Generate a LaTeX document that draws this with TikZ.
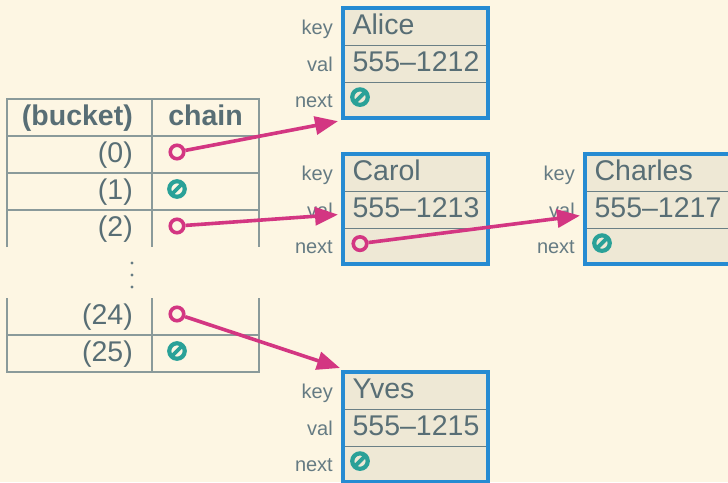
\documentclass[tikz,border=0pt]{standalone}
\usepackage{fontspec}
\setmainfont{Liberation Sans}
\usetikzlibrary{arrows.meta,fit,calc}
\definecolor{bgc}{HTML}{FDF6E3}
\definecolor{cellc}{HTML}{EEE8D5}
\definecolor{txtc}{HTML}{586E75}
\definecolor{lblc}{HTML}{657B83}
\definecolor{gridc}{HTML}{8A9A9A}
\definecolor{sepc}{HTML}{6A7F85}
\definecolor{bluec}{HTML}{268BD2}
\definecolor{magc}{HTML}{D33682}
\definecolor{cyanc}{HTML}{2AA198}
\tikzset{
  bigfont/.style={font=\fontsize{28.5}{30}\selectfont},
  smallfont/.style={font=\fontsize{20}{22}\selectfont},
  cell/.style={rectangle, draw=sepc, line width=1.2pt, fill=cellc, anchor=north west,
    minimum width=144pt, inner xsep=9pt, inner ysep=0pt, text width=126pt, align=left,
    text height=20pt, text depth=5pt, bigfont, text=txtc},
  recbox/.style={rectangle, draw=bluec, line width=4pt, inner sep=0pt},
  lbl/.style={anchor=east, inner sep=0pt, text height=20pt, text depth=5pt, smallfont, text=lblc},
  tcell/.style={rectangle, anchor=north west, minimum height=37pt, inner sep=0pt, outer sep=0pt, line width=1.2pt},
  ttext/.style={inner sep=0pt, text height=20pt, text depth=5pt, bigfont, text=txtc},
  grid/.style={draw=gridc, line width=1.2pt},
  dot/.style={circle, fill=lblc, minimum size=3.2pt, inner sep=0pt},
  ptr/.style={circle, draw=magc, line width=3.6pt, minimum size=13.5pt, inner sep=0pt},
  nil/.style={circle, draw=cyanc, line width=4.2pt, minimum size=15.5pt, inner sep=0pt,
    path picture={\draw[cyanc, line width=3.8pt] (path picture bounding box.south west) -- (path picture bounding box.north east);}},
  ptrline/.style={draw=magc, line width=3.6pt, -{Triangle[length=23pt,width=18pt]}}
}
\begin{document}
\begin{tikzpicture}[x=1pt,y=-1pt]
\fill[bgc] (0,0) rectangle (728,482);
\useasboundingbox (0,0) rectangle (728,482);

% ---------- table ----------
\node[tcell, draw=gridc, minimum width=145pt] (bh) at (7,99) {};
\node[tcell, draw=gridc, minimum width=107pt] (ch) at (152,99) {};
\node[tcell, draw=gridc, minimum width=145pt] (b0) at (7,136) {};
\node[tcell, draw=gridc, minimum width=107pt] (c0) at (152,136) {};
\node[tcell, draw=gridc, minimum width=145pt] (b1) at (7,173) {};
\node[tcell, draw=gridc, minimum width=107pt] (c1) at (152,173) {};
\node[tcell, minimum width=145pt] (b2) at (7,210) {};
\node[tcell, minimum width=107pt] (c2) at (152,210) {};
\node[tcell, minimum width=145pt] (b24) at (7,298) {};
\node[tcell, minimum width=107pt] (c24) at (152,298) {};
\node[tcell, draw=gridc, minimum width=145pt] (b25) at (7,335) {};
\node[tcell, draw=gridc, minimum width=107pt] (c25) at (152,335) {};
\draw[grid] (b2.south west) -- (b2.north west);
\draw[grid] (b2.north east) -- (b2.south east);
\draw[grid] (c2.north east) -- (c2.south east);
\draw[grid] (b24.north west) -- (b24.south west);
\draw[grid] (b24.north east) -- (b24.south east);
\draw[grid] (c24.south east) -- (c24.north east);

\node[ttext, anchor=east] (th1) at ([xshift=-19pt]bh.east) {\bfseries (bucket)};
\node[ttext] (th2) at (ch.center) {\bfseries chain};
\node[ttext, anchor=east] (n0) at ([xshift=-19pt]b0.east) {(0)};
\node[ttext, anchor=east] (n1) at ([xshift=-19pt]b1.east) {(1)};
\node[ttext, anchor=east] (n2) at ([xshift=-19pt]b2.east) {(2)};
\node[ttext, anchor=east] (n24) at ([xshift=-19pt]b24.east) {(24)};
\node[ttext, anchor=east] (n25) at ([xshift=-19pt]b25.east) {(25)};
\node[dot] (dot1) at (132,263) {};
\node[dot] (dot2) at (132,275) {};
\node[dot] (dot3) at (132,287) {};

\node[ptr] (p0) at ([xshift=25pt,yshift=2.5pt]c0.west) {};
\node[nil] (nil1) at ([xshift=25pt,yshift=2.5pt]c1.west) {};
\node[ptr] (p2) at ([xshift=25pt,yshift=2.5pt]c2.west) {};
\node[ptr] (p24) at ([xshift=25pt,yshift=2.5pt]c24.west) {};
\node[nil] (nil25) at ([xshift=25pt,yshift=2.5pt]c25.west) {};

% ---------- Alice ----------
\node[cell, minimum height=37pt] (alice-key) at (343,8) {Alice};
\node[cell, minimum height=37pt] (alice-val) at (343,45) {\mbox{555--1212}};
\node[cell, minimum height=35pt] (alice-next) at (343,82) {};
\node[recbox, fit=(alice-key)(alice-next)] (alice) {};
\node[lbl] (alice-kl) at ([xshift=-10pt]alice-key.west) {key};
\node[lbl] (alice-vl) at ([xshift=-10pt]alice-val.west) {val};
\node[lbl] (alice-nl) at ([xshift=-10pt]alice-next.west) {next};
\node[nil] (alice-nil) at ([xshift=17pt,yshift=3pt]alice-next.west) {};

% ---------- Carol ----------
\node[cell, minimum height=37pt] (carol-key) at (343,154) {Carol};
\node[cell, minimum height=37pt] (carol-val) at (343,191) {\mbox{555--1213}};
\node[cell, minimum height=35pt] (carol-next) at (343,228) {};
\node[recbox, fit=(carol-key)(carol-next)] (carol) {};
\node[lbl] (carol-kl) at ([xshift=-10pt]carol-key.west) {key};
\node[lbl] (carol-vl) at ([xshift=-10pt]carol-val.west) {val};
\node[lbl] (carol-nl) at ([xshift=-10pt]carol-next.west) {next};
\node[ptr] (carol-ptr) at ([xshift=17pt,yshift=2.5pt]carol-next.west) {};

% ---------- Charles ----------
\node[cell, minimum height=37pt] (charles-key) at (585,154) {Charles};
\node[cell, minimum height=37pt] (charles-val) at (585,191) {\mbox{555--1217}};
\node[cell, minimum height=35pt] (charles-next) at (585,228) {};
\node[recbox, fit=(charles-key)(charles-next)] (charles) {};
\node[lbl] (charles-kl) at ([xshift=-10pt]charles-key.west) {key};
\node[lbl] (charles-vl) at ([xshift=-10pt]charles-val.west) {val};
\node[lbl] (charles-nl) at ([xshift=-10pt]charles-next.west) {next};
\node[nil] (charles-nil) at ([xshift=17pt,yshift=3pt]charles-next.west) {};

% ---------- Yves ----------
\node[cell, minimum height=37pt] (yves-key) at (343,372) {Yves};
\node[cell, minimum height=37pt] (yves-val) at (343,409) {\mbox{555--1215}};
\node[cell, minimum height=35pt] (yves-next) at (343,446) {};
\node[recbox, fit=(yves-key)(yves-next)] (yves) {};
\node[lbl] (yves-kl) at ([xshift=-10pt]yves-key.west) {key};
\node[lbl] (yves-vl) at ([xshift=-10pt]yves-val.west) {val};
\node[lbl] (yves-nl) at ([xshift=-10pt]yves-next.west) {next};
\node[nil] (yves-nil) at ([xshift=17pt,yshift=3pt]yves-next.west) {};

% ---------- pointers ----------
\coordinate (alice-in) at ([shift={(-3pt,-1pt)}]alice.south west);
\coordinate (carol-in) at ([shift={(-3pt,-5.5pt)}]carol.west);
\coordinate (charles-in) at ([shift={(-3pt,-6.5pt)}]charles.west);
\coordinate (yves-in) at ([shift={(-1pt,2pt)}]yves.north west);
\draw[ptrline] (p0) -- (alice-in);
\draw[ptrline] (p2) -- (carol-in);
\draw[ptrline] (p24) -- (yves-in);
\draw[ptrline] (carol-ptr) -- (charles-in);
\end{tikzpicture}
\end{document}
